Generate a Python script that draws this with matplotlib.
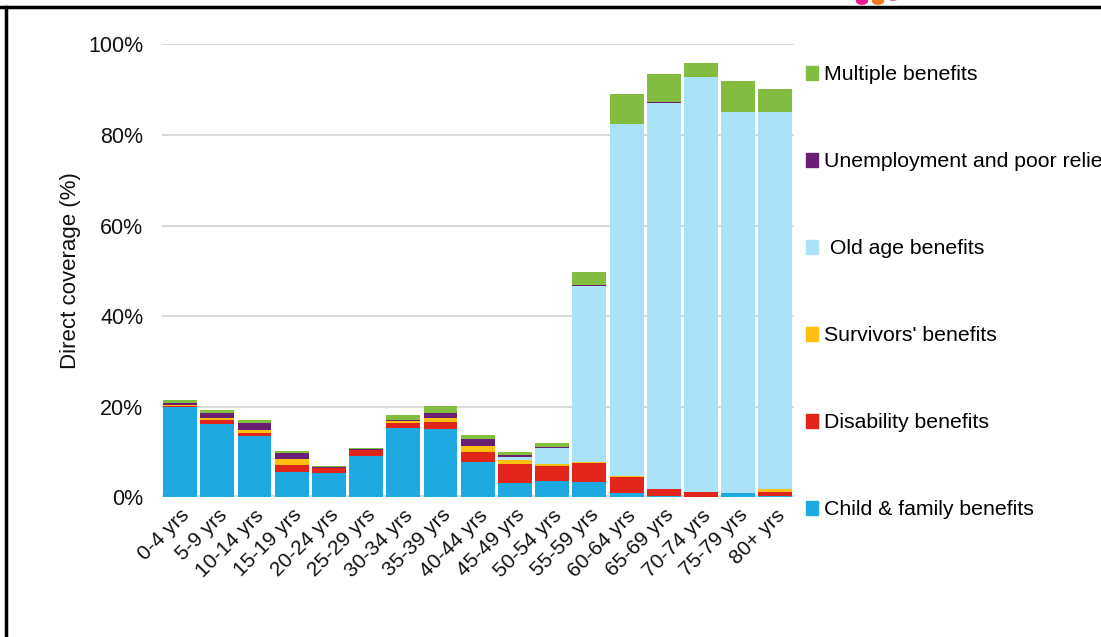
import matplotlib
matplotlib.use('Agg')
import matplotlib.pyplot as plt
import numpy as np
from matplotlib.patches import Patch, Circle
from matplotlib.lines import Line2D

plt.rcParams['font.family'] = ['Liberation Sans', 'DejaVu Sans']

ages = ['0-4 yrs', '5-9 yrs', '10-14 yrs', '15-19 yrs', '20-24 yrs', '25-29 yrs',
        '30-34 yrs', '35-39 yrs', '40-44 yrs', '45-49 yrs', '50-54 yrs', '55-59 yrs',
        '60-64 yrs', '65-69 yrs', '70-74 yrs', '75-79 yrs', '80+ yrs']

# coverage shares in percent
child = [20.0, 16.2, 13.5, 5.55, 5.4, 9.1, 15.2, 15.0, 7.9, 3.1, 3.6, 3.3, 0.95, 0.2, 0.0, 0.9, 0.35]
disability = [0.2, 0.8, 0.6, 1.55, 1.0, 1.25, 1.25, 1.55, 2.0, 4.2, 3.35, 4.2, 3.6, 1.6, 1.1, 0.0, 0.8]
survivors = [0.2, 0.4, 0.75, 1.3, 0.0, 0.0, 0.35, 0.9, 1.35, 0.9, 0.35, 0.3, 0.1, 0.0, 0.0, 0.0, 0.6]
old_age = [0, 0, 0, 0, 0, 0, 0, 0, 0, 0.8, 3.6, 38.8, 77.75, 85.3, 91.6, 84.2, 83.25]
unemployment = [0.45, 1.1, 1.45, 1.3, 0.3, 0.25, 0.35, 1.2, 1.55, 0.35, 0.3, 0.2, 0.1, 0.1, 0.0, 0.0, 0.0]
multiple = [0.6, 0.7, 0.7, 0.5, 0.1, 0.35, 1.1, 1.5, 0.95, 0.65, 0.8, 2.9, 6.6, 6.2, 3.2, 6.8, 5.1]

series = [
    ('Child & family benefits', child, '#1eaae1'),
    ('Disability benefits', disability, '#e1251b'),
    ("Survivors' benefits", survivors, '#fdc010'),
    (' Old age benefits', old_age, '#aae2fa'),
    ('Unemployment and poor relief', unemployment, '#6a1f73'),
    ('Multiple benefits', multiple, '#82bc41'),
]

fig = plt.figure(figsize=(11.01, 6.37), dpi=100)
ax = fig.add_axes([161.5 / 1101, 1 - 497.3 / 637, 632.5 / 1101, 453 / 637])

x = np.arange(len(ages))
bottom = np.zeros(len(ages))
for name, vals, col in series:
    vals = np.array(vals)
    ax.bar(x, vals, 0.91, bottom=bottom, color=col, linewidth=0, zorder=3)
    bottom += vals

ax.set_xlim(-0.5, len(ages) - 0.5)
ax.set_ylim(0, 100)
ax.set_yticks(np.arange(0, 101, 20))
ax.set_yticklabels([f'{v}%' for v in range(0, 101, 20)])
ax.grid(axis='y', color='#d9d9d9', linewidth=1.5, zorder=0)
ax.axhline(0, color='#d9d9d9', linewidth=3, zorder=1)
for s in ax.spines.values():
    s.set_visible(False)
ax.tick_params(axis='y', length=0, pad=13, labelsize=15.5, labelcolor='#111111')
ax.tick_params(axis='x', length=0, pad=6, labelsize=15, labelcolor='#111111')
ax.set_xticks(x)
ax.set_xticklabels(ages, rotation=45, ha='right', rotation_mode='anchor')
ax.set_ylabel('Direct coverage (%)', fontsize=16, labelpad=5, color='#111111')

handles = [Patch(color=col, label=name) for name, _, col in series][::-1]
ax.legend(handles=handles, loc='upper left', bbox_to_anchor=(1.005, 0.972),
          frameon=False, fontsize=15.3, handlelength=0.6, handleheight=0.6,
          handletextpad=0.25, labelspacing=3.2, borderaxespad=0)

# frame of the screenshot and the clipped logo dots
fig.add_artist(Line2D([0, 1], [1 - 7 / 637, 1 - 7 / 637], color='black', lw=2.5))
fig.add_artist(Line2D([6.5 / 1101, 6.5 / 1101], [0, 1 - 7 / 637], color='black', lw=2.5))
for cx, cy, col in [(862, 1, '#ec1c8c'), (878, 1, '#f47b20'), (893, -3, '#b05c8c')]:
    fig.add_artist(Circle((cx / 1101, 1 - cy / 637), 5.5 / 1101, color=col,
                          transform=fig.transFigure, zorder=0))

fig.savefig('out.png', dpi=100)
